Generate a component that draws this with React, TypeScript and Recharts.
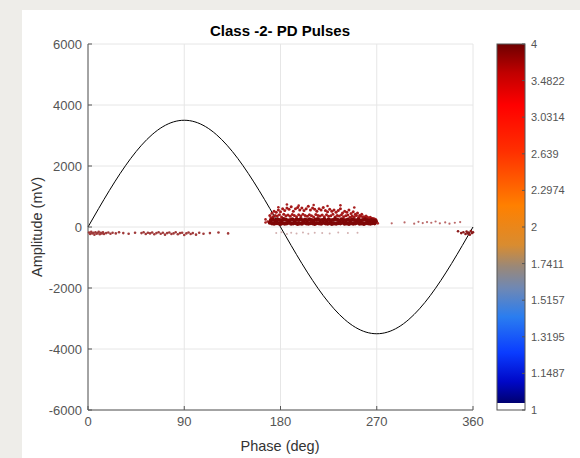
import React from 'react';
import { ComposedChart, Line, Scatter, XAxis, YAxis, CartesianGrid } from 'recharts';

// phase axis / amplitude axis
const phaseTicks = [0, 90, 180, 270, 360];
const ampTicks = [-6000, -4000, -2000, 0, 2000, 4000, 6000];

// colorbar tick labels, bottom to top
const colorTicks = ['1', '1.1487', '1.3195', '1.5157', '1.7411', '2', '2.2974', '2.639', '3.0314', '3.4822', '4'];

// reference sine (every 10 deg)
const sinePhase = [0, 10, 20, 30, 40, 50, 60, 70, 80, 90, 100, 110, 120, 130, 140, 150, 160, 170, 180,
  190, 200, 210, 220, 230, 240, 250, 260, 270, 280, 290, 300, 310, 320, 330, 340, 350, 360];
const sineAmp = [0, 608, 1197, 1750, 2250, 2681, 3031, 3289, 3447, 3500, 3447, 3289, 3031, 2681, 2250, 1750, 1197, 608, 0,
  -608, -1197, -1750, -2250, -2681, -3031, -3289, -3447, -3500, -3447, -3289, -3031, -2681, -2250, -1750, -1197, -608, 0];

// main pulse cluster
const clusterPhase = [170, 172, 174, 176, 178, 180, 182, 184, 186, 188, 190, 192, 194, 196, 198, 200, 202, 204, 206, 208,
  210, 212, 214, 216, 218, 220, 222, 224, 226, 228, 230, 232, 234, 236, 238, 240, 242, 244, 246, 248,
  250, 252, 254, 256, 258, 260, 262, 264, 266, 268];
const clusterLow = [140, 120, 110, 130, 120, 100, 130, 110, 120, 140, 110, 120, 130, 100, 120, 110, 140, 120, 110, 130,
  120, 100, 130, 120, 110, 140, 120, 110, 130, 100, 120, 110, 130, 120, 140, 110, 120, 100, 130, 110,
  120, 140, 110, 120, 100, 130, 120, 110, 130, 120];
const clusterMid = [220, 240, 210, 250, 230, 220, 260, 240, 210, 230, 250, 220, 240, 230, 260, 210, 240, 220, 250, 230,
  210, 240, 260, 220, 230, 250, 210, 240, 220, 230, 260, 240, 210, 250, 230, 220, 240, 210, 250, 230,
  220, 240, 210, 230, 250, 220, 200, 230, 210, 190];
const clusterUpper = [300, 340, 380, 360, 400, 330, 420, 370, 390, 350, 410, 380, 340, 400, 360, 420, 380, 350, 400, 370,
  330, 410, 380, 360, 390, 340, 400, 350, 370, 420, 330, 380, 360, 400, 340, 370, 390, 320, 360, 340,
  380, 310, 350, 330, 300, 320, 290, 280, 270, 250];
const clusterTop = [380, 450, 520, 480, 560, 500, 600, 540, 620, 580, 660, 520, 600, 640, 560, 620, 540, 600, 680, 560,
  620, 580, 520, 600, 560, 640, 540, 500, 580, 520, 560, 480, 540, 600, 460, 520, 480, 560, 440, 500,
  420, 460, 380, 420, 340, 360, 300, 320, 280, 260];
const clusterExtra: [number, number][] = [[166, 150], [168, 180], [166, 250], [270, 180], [271, 120],
  [178, 650], [186, 740], [197, 700], [211, 720], [224, 690], [236, 710], [249, 640]];

// sparse pulses
const negLeft: [number, number][] = [[1, -180], [2, -230], [3, -160], [4, -210], [5, -190], [6, -250], [7, -170], [8, -220],
  [9, -200], [10, -160], [11, -240], [12, -190], [13, -210], [14, -170], [15, -230], [17, -200], [19, -180], [21, -220],
  [23, -190], [26, -210], [29, -170], [33, -200], [38, -220], [44, -190], [50, -200], [52, -170], [54, -230], [56, -190],
  [58, -210], [60, -180], [62, -240], [64, -200], [66, -170], [68, -220], [70, -190], [72, -250], [74, -200], [76, -180],
  [78, -230], [80, -210], [82, -170], [84, -240], [86, -200], [88, -190], [90, -260], [92, -210], [94, -180], [96, -230],
  [98, -200], [101, -250], [104, -190], [108, -220], [114, -200], [122, -180], [131, -210]];
const negMid: [number, number][] = [[176, -200], [181, -170], [186, -230], [190, -190], [195, -210], [201, -180], [206, -220],
  [212, -190], [219, -200], [226, -210], [234, -180], [243, -200], [252, -190]];
const posRight: [number, number][] = [[284, 120], [296, 150], [305, 110], [309, 170], [313, 130], [317, 160], [321, 140],
  [325, 180], [329, 120], [334, 150], [338, 110], [343, 140], [348, 160]];
const negRight: [number, number][] = [[346, -140], [349, -200], [351, -170], [353, -230], [354, -150], [355, -210],
  [356, -180], [357, -250], [358, -130], [359, -200], [360, -170]];

const sineData = sinePhase.map((p, i) => ({ phase: p, amp: sineAmp[i] }));
const toPts = (rows: [number, number][]) => rows.map(([phase, amp]) => ({ phase, amp }));
const bandLow = clusterPhase.flatMap((p, i) => [{ phase: p, amp: clusterLow[i] }, { phase: p + 1, amp: clusterMid[i] }]);
const bandHigh = clusterPhase.flatMap((p, i) => [{ phase: p + 1, amp: clusterUpper[i] }, { phase: p, amp: clusterTop[i] }]);

const dot = (r: number) => (props: any) => <circle cx={props.cx} cy={props.cy} r={r} fill={props.fill} />;

const FONT = '"Liberation Sans", Arial, Helvetica, sans-serif';
const AXIS = '#555';
const cbStops: [number, string][] = [
  [0, '#6e0000'], [0.08, '#c00000'], [0.17, '#ff0000'], [0.3, '#ff3000'], [0.45, '#ff8000'],
  [0.56, '#d98c30'], [0.62, '#9a8878'], [0.68, '#6f88b4'], [0.76, '#2a7df0'], [0.86, '#0a3cff'], [0.94, '#0008c8'], [1, '#000070'],
];

const PLOT_TOP = 44;
const PLOT_BOTTOM = 410;
const CB_X = 497;
const CB_W = 28;

export default function App() {
  const cbStep = (PLOT_BOTTOM - PLOT_TOP) / (colorTicks.length - 1);
  return (
    <div style={{ position: 'absolute', left: 0, top: 0, width: 580, height: 458, background: '#eeede9', overflow: 'hidden' }}>
      <div style={{ position: 'absolute', left: 22, top: 10, right: 0, bottom: 0, background: '#fff' }} />
      <div style={{ position: 'absolute', left: 0, top: 0 }}>
        <ComposedChart width={580} height={458} margin={{ top: 44, right: 107, bottom: 18, left: 28 }}>
          <CartesianGrid stroke="#e6e6e6" />
          <XAxis dataKey="phase" type="number" domain={[0, 360]} ticks={phaseTicks} height={30}
            stroke={AXIS} tickSize={-4} tickMargin={11}
            tick={{ fill: AXIS, fontSize: 13, fontFamily: FONT }} />
          <XAxis xAxisId="top" orientation="top" type="number" domain={[0, 360]} ticks={phaseTicks} height={0}
            stroke={AXIS} tickSize={-4} tick={false} />
          <YAxis dataKey="amp" type="number" domain={[-6000, 6000]} ticks={ampTicks} width={60}
            stroke={AXIS} tickSize={-4} tickMargin={10}
            tick={{ fill: AXIS, fontSize: 13, fontFamily: FONT }} />
          <YAxis yAxisId="right" orientation="right" type="number" domain={[-6000, 6000]} ticks={ampTicks} width={0}
            stroke={AXIS} tickSize={-4} tick={false} />
          <Scatter data={toPts(negLeft)} dataKey="amp" fill="#a03a3a" shape={dot(1.3)} isAnimationActive={false} />
          <Scatter data={toPts(negMid)} dataKey="amp" fill="#d2b0b0" shape={dot(1)} isAnimationActive={false} />
          <Scatter data={toPts(posRight)} dataKey="amp" fill="#bb6a6a" shape={dot(1.1)} isAnimationActive={false} />
          <Scatter data={toPts(negRight)} dataKey="amp" fill="#8b1a1a" shape={dot(1.3)} isAnimationActive={false} />
          <Scatter data={bandHigh} dataKey="amp" fill="#a51818" shape={dot(1.5)} isAnimationActive={false} />
          <Scatter data={toPts(clusterExtra)} dataKey="amp" fill="#a82020" shape={dot(1.3)} isAnimationActive={false} />
          <Scatter data={bandLow} dataKey="amp" fill="#7f0606" shape={dot(2.1)} isAnimationActive={false} />
          <Line data={sineData} dataKey="amp" type="monotone" dot={false} stroke="#000" strokeWidth={1}
            isAnimationActive={false} />
        </ComposedChart>
      </div>
      <svg width={580} height={458} style={{ position: 'absolute', left: 0, top: 0, pointerEvents: 'none' }}>
        <defs>
          <linearGradient id="cb" x1="0" y1="0" x2="0" y2="1">
            {cbStops.map(([o, c]) => <stop key={o} offset={o} stopColor={c} />)}
          </linearGradient>
        </defs>
        <text x={280} y={36} textAnchor="middle" fontFamily={FONT} fontSize={15} fontWeight="bold" fill="#000">
          Class -2- PD Pulses
        </text>
        <text x={280} y={451} textAnchor="middle" fontFamily={FONT} fontSize={14.5} fill="#333">Phase (deg)</text>
        <text x={0} y={0} transform="translate(42,227) rotate(-90)" textAnchor="middle" fontFamily={FONT}
          fontSize={14.5} fill="#333">Amplitude (mV)</text>
        <rect x={CB_X} y={PLOT_TOP} width={CB_W} height={PLOT_BOTTOM - PLOT_TOP - 7} fill="url(#cb)" />
        <rect x={CB_X} y={PLOT_BOTTOM - 7} width={CB_W} height={7} fill="#fff" />
        <rect x={CB_X} y={PLOT_TOP} width={CB_W} height={PLOT_BOTTOM - PLOT_TOP} fill="none" stroke={AXIS} strokeWidth={1} />
        {colorTicks.map((t, i) => {
          const y = PLOT_BOTTOM - i * cbStep;
          return (
            <g key={t}>
              <line x1={CB_X + CB_W} x2={CB_X + CB_W - 3} y1={y} y2={y} stroke={AXIS} />
              <text x={CB_X + CB_W + 6} y={y} dy="0.355em" fontFamily={FONT} fontSize={11} fill={AXIS}>{t}</text>
            </g>
          );
        })}
      </svg>
    </div>
  );
}
